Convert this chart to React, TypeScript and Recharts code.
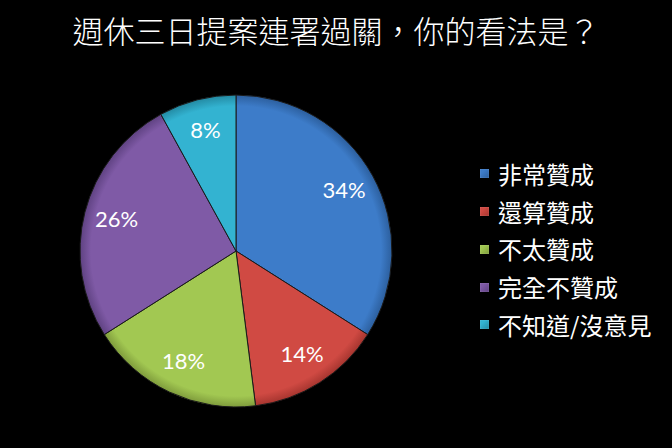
import React from 'react';
import { PieChart, Pie, Cell, Legend } from 'recharts';

const categories = ['非常贊成', '還算贊成', '不太贊成', '完全不贊成', '不知道/沒意見'];
const shares = [34, 14, 18, 26, 8];
const colors = ['#3d7cc9', '#d04a43', '#a2c852', '#7f5aa6', '#33b3d1'];
const edgeColors = ['#2c5f9e', '#a6352f', '#7f9c3c', '#5f4282', '#238aa3'];

const title = '週休三日提案連署過關，你的看法是？';

const data = categories.map((name, i) => ({ name, value: shares[i] }));

const CX = 236;
const CY = 251;
const R = 156;
const RAD = Math.PI / 180;

const renderLabel = (props: any) => {
  const { midAngle, value } = props;
  const r = R * 0.79;
  const x = CX + r * Math.cos(-midAngle * RAD);
  const y = CY + r * Math.sin(-midAngle * RAD) - 2;
  return (
    <text
      x={x}
      y={y}
      fill="#ffffff"
      fontSize={22}
      fontFamily="Lato, 'Open Sans', sans-serif"
      textAnchor="middle"
      dominantBaseline="central"
    >
      {value}%
    </text>
  );
};

const renderLegend = () => (
  <div style={{ fontFamily: "'Noto Sans CJK TC', sans-serif" }}>
    {categories.map((name, i) => (
      <div key={name} style={{ display: 'flex', alignItems: 'center', height: 37.75 }}>
        <div
          style={{
            width: 9,
            height: 9,
            marginRight: 9,
            background: `linear-gradient(135deg, ${colors[i]} 30%, ${edgeColors[i]})`,
            boxShadow: `inset 0 0 1px rgba(255,255,255,0.6)`,
          }}
        />
        <span style={{ color: '#ffffff', fontSize: 24, lineHeight: '24px' }}>{name}</span>
      </div>
    ))}
  </div>
);

export default function App() {
  return (
    <div style={{ position: 'absolute', left: 0, top: 0, width: 672, height: 448, background: '#000' }}>
      <div
        style={{
          position: 'absolute',
          left: 0,
          top: 10,
          width: 672,
          textAlign: 'center',
          color: '#ffffff',
          fontSize: 31,
          lineHeight: '40px',
          fontFamily: "'Noto Sans CJK TC', sans-serif",
          fontWeight: 300,
        }}
      >
        {title}
      </div>
      <PieChart width={672} height={448} margin={{ top: 0, right: 0, bottom: 0, left: 0 }}>
        <defs>
          {colors.map((c, i) => (
            <radialGradient
              key={c}
              id={`slice${i}`}
              gradientUnits="userSpaceOnUse"
              cx={CX}
              cy={CY}
              r={R}
            >
              <stop offset="0%" stopColor={c} />
              <stop offset="93%" stopColor={c} />
              <stop offset="100%" stopColor={edgeColors[i]} />
            </radialGradient>
          ))}
        </defs>
        <Pie
          data={data}
          dataKey="value"
          nameKey="name"
          cx={CX}
          cy={CY}
          outerRadius={R}
          startAngle={90}
          endAngle={-270}
          stroke="#1a1a1a"
          strokeWidth={1}
          label={renderLabel}
          labelLine={false}
          isAnimationActive={false}
        >
          {data.map((d, i) => (
            <Cell key={d.name} fill={`url(#slice${i})`} />
          ))}
        </Pie>
        <Legend
          layout="vertical"
          content={renderLegend}
          wrapperStyle={{ position: 'absolute', left: 480, top: 155, width: 190 }}
        />
      </PieChart>
    </div>
  );
}
